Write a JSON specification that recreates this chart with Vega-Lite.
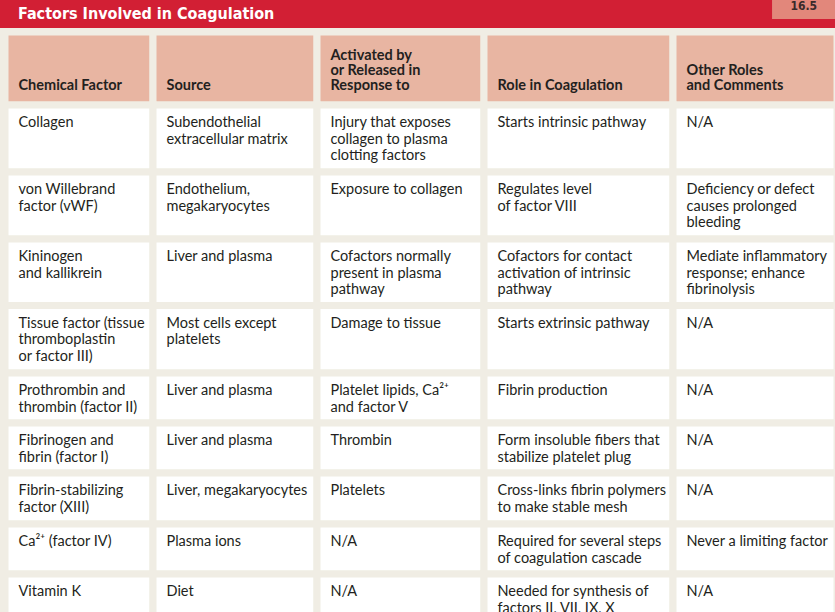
{
  "$schema": "https://vega.github.io/schema/vega-lite/v6.json",
  "width": 835,
  "height": 612,
  "padding": 0,
  "autosize": {"type": "none"},
  "background": "#f0ede4",
  "view": {"stroke": null},
  "config": {"axis": {"disable": true}, "legend": {"disable": true}},
  "datasets": {
    "cells": [
      {"r": 0, "c": 0, "t": ["Chemical Factor"]},
      {"r": 0, "c": 1, "t": ["Source"]},
      {"r": 0, "c": 2, "t": ["Activated by", "or Released in", "Response to"]},
      {"r": 0, "c": 3, "t": ["Role in Coagulation"]},
      {"r": 0, "c": 4, "t": ["Other Roles", "and Comments"]},
      {"r": 1, "c": 0, "t": ["Collagen"]},
      {"r": 1, "c": 1, "t": ["Subendothelial", "extracellular matrix"]},
      {"r": 1, "c": 2, "t": ["Injury that exposes", "collagen to plasma", "clotting factors"]},
      {"r": 1, "c": 3, "t": ["Starts intrinsic pathway"]},
      {"r": 1, "c": 4, "t": ["N/A"]},
      {"r": 2, "c": 0, "t": ["von Willebrand", "factor (vWF)"]},
      {"r": 2, "c": 1, "t": ["Endothelium,", "megakaryocytes"]},
      {"r": 2, "c": 2, "t": ["Exposure to collagen"]},
      {"r": 2, "c": 3, "t": ["Regulates level", "of factor VIII"]},
      {"r": 2, "c": 4, "t": ["Deficiency or defect", "causes prolonged", "bleeding"]},
      {"r": 3, "c": 0, "t": ["Kininogen", "and kallikrein"]},
      {"r": 3, "c": 1, "t": ["Liver and plasma"]},
      {"r": 3, "c": 2, "t": ["Cofactors normally", "present in plasma", "pathway"]},
      {"r": 3, "c": 3, "t": ["Cofactors for contact", "activation of intrinsic", "pathway"]},
      {"r": 3, "c": 4, "t": ["Mediate inflammatory", "response; enhance", "fibrinolysis"]},
      {"r": 4, "c": 0, "t": ["Tissue factor (tissue", "thromboplastin", "or factor III)"]},
      {"r": 4, "c": 1, "t": ["Most cells except", "platelets"]},
      {"r": 4, "c": 2, "t": ["Damage to tissue"]},
      {"r": 4, "c": 3, "t": ["Starts extrinsic pathway"]},
      {"r": 4, "c": 4, "t": ["N/A"]},
      {"r": 5, "c": 0, "t": ["Prothrombin and", "thrombin (factor II)"]},
      {"r": 5, "c": 1, "t": ["Liver and plasma"]},
      {"r": 5, "c": 2, "t": ["Platelet lipids, Ca²⁺", "and factor V"]},
      {"r": 5, "c": 3, "t": ["Fibrin production"]},
      {"r": 5, "c": 4, "t": ["N/A"]},
      {"r": 6, "c": 0, "t": ["Fibrinogen and", "fibrin (factor I)"]},
      {"r": 6, "c": 1, "t": ["Liver and plasma"]},
      {"r": 6, "c": 2, "t": ["Thrombin"]},
      {"r": 6, "c": 3, "t": ["Form insoluble fibers that", "stabilize platelet plug"]},
      {"r": 6, "c": 4, "t": ["N/A"]},
      {"r": 7, "c": 0, "t": ["Fibrin-stabilizing", "factor (XIII)"]},
      {"r": 7, "c": 1, "t": ["Liver, megakaryocytes"]},
      {"r": 7, "c": 2, "t": ["Platelets"]},
      {"r": 7, "c": 3, "t": ["Cross-links fibrin polymers", "to make stable mesh"]},
      {"r": 7, "c": 4, "t": ["N/A"]},
      {"r": 8, "c": 0, "t": ["Ca²⁺ (factor IV)"]},
      {"r": 8, "c": 1, "t": ["Plasma ions"]},
      {"r": 8, "c": 2, "t": ["N/A"]},
      {"r": 8, "c": 3, "t": ["Required for several steps", "of coagulation cascade"]},
      {"r": 8, "c": 4, "t": ["Never a limiting factor"]},
      {"r": 9, "c": 0, "t": ["Vitamin K"]},
      {"r": 9, "c": 1, "t": ["Diet"]},
      {"r": 9, "c": 2, "t": ["N/A"]},
      {"r": 9, "c": 3, "t": ["Needed for synthesis of", "factors II, VII, IX, X"]},
      {"r": 9, "c": 4, "t": ["N/A"]}
    ],
    "banner": [
      {"label": "Factors Involved in Coagulation", "number": "16.5"}
    ]
  },
  "resolve": {"scale": {"x": "shared", "y": "shared"}},
  "layer": [
    {
      "data": {"name": "banner"},
      "mark": {"type": "rect", "fill": "#d21f34", "stroke": "#f0ede4", "strokeWidth": 7},
      "encoding": {
        "x": {"datum": -1, "type": "quantitative", "scale": {"domain": [-1, 0, 1, 2, 3, 4, 5, 6], "range": [-20, 4.5, 152.5, 316.5, 483.5, 672.5, 836.5, 860], "zero": false, "nice": false, "clamp": false}},
        "x2": {"datum": 6},
        "y": {"datum": -1, "type": "quantitative", "scale": {"domain": [-1, 0, 1, 2, 3, 4, 5, 6, 7, 8, 9, 10], "range": [-20, 31.5, 104.5, 171.5, 238.5, 305, 372.5, 422.5, 472.5, 523.5, 573.5, 640], "zero": false, "nice": false, "clamp": false}},
        "y2": {"datum": 0}
      }
    },
    {
      "data": {"name": "banner"},
      "mark": {"type": "rect", "fill": "#e2877b"},
      "encoding": {
        "x": {"datum": 4.607, "type": "quantitative"},
        "x2": {"datum": 6},
        "y": {"datum": -1, "type": "quantitative"},
        "y2": {"datum": -0.243}
      }
    },
    {
      "data": {"name": "banner"},
      "mark": {"type": "text", "font": "DejaVu Sans Condensed, Lato", "fontWeight": "bold", "fontSize": 16, "color": "#ffffff", "align": "left", "baseline": "alphabetic", "dx": 13.5, "dy": -12.5},
      "encoding": {
        "x": {"datum": 0, "type": "quantitative"},
        "y": {"datum": 0, "type": "quantitative"},
        "text": {"field": "label"}
      }
    },
    {
      "data": {"name": "banner"},
      "mark": {"type": "text", "font": "DejaVu Sans Condensed, Lato", "fontWeight": "bold", "fontSize": 12, "color": "#3a2a2a", "align": "center", "baseline": "alphabetic", "dy": -22},
      "encoding": {
        "x": {"datum": 4.8, "type": "quantitative"},
        "y": {"datum": 0, "type": "quantitative"},
        "text": {"field": "number"}
      }
    },
    {
      "data": {"name": "cells"},
      "mark": {"type": "rect", "stroke": "#f0ede4", "strokeWidth": 7},
      "encoding": {
        "x": {"field": "c", "type": "quantitative", "bin": {"step": 1, "extent": [0, 5]}},
        "y": {"field": "r", "type": "quantitative", "bin": {"step": 1, "extent": [0, 10]}},
        "fill": {"condition": {"test": "datum.r === 0", "value": "#e8b5a2"}, "value": "#ffffff"}
      }
    },
    {
      "data": {"name": "cells"},
      "transform": [{"filter": "datum.r > 0"}],
      "mark": {"type": "text", "font": "Lato", "fontSize": 14.5, "color": "#231f20", "align": "left", "baseline": "alphabetic", "lineHeight": 16.5, "dx": 14, "dy": 22.5},
      "encoding": {
        "x": {"field": "c", "type": "quantitative"},
        "y": {"field": "r", "type": "quantitative"},
        "text": {"field": "t"}
      }
    },
    {
      "data": {"name": "cells"},
      "transform": [{"filter": "datum.r === 0 && length(datum.t) === 1"}],
      "mark": {"type": "text", "font": "Lato", "fontWeight": "bold", "fontSize": 14.5, "color": "#231f20", "align": "left", "baseline": "bottom", "lineHeight": 15, "dx": 14, "dy": 61.5},
      "encoding": {
        "x": {"field": "c", "type": "quantitative"},
        "y": {"field": "r", "type": "quantitative"},
        "text": {"field": "t"}
      }
    },
    {
      "data": {"name": "cells"},
      "transform": [{"filter": "datum.r === 0 && length(datum.t) === 2"}],
      "mark": {"type": "text", "font": "Lato", "fontWeight": "bold", "fontSize": 14.5, "color": "#231f20", "align": "left", "baseline": "bottom", "lineHeight": 15, "dx": 14, "dy": 46.5},
      "encoding": {
        "x": {"field": "c", "type": "quantitative"},
        "y": {"field": "r", "type": "quantitative"},
        "text": {"field": "t"}
      }
    },
    {
      "data": {"name": "cells"},
      "transform": [{"filter": "datum.r === 0 && length(datum.t) === 3"}],
      "mark": {"type": "text", "font": "Lato", "fontWeight": "bold", "fontSize": 14.5, "color": "#231f20", "align": "left", "baseline": "bottom", "lineHeight": 15, "dx": 14, "dy": 31.5},
      "encoding": {
        "x": {"field": "c", "type": "quantitative"},
        "y": {"field": "r", "type": "quantitative"},
        "text": {"field": "t"}
      }
    }
  ]
}
